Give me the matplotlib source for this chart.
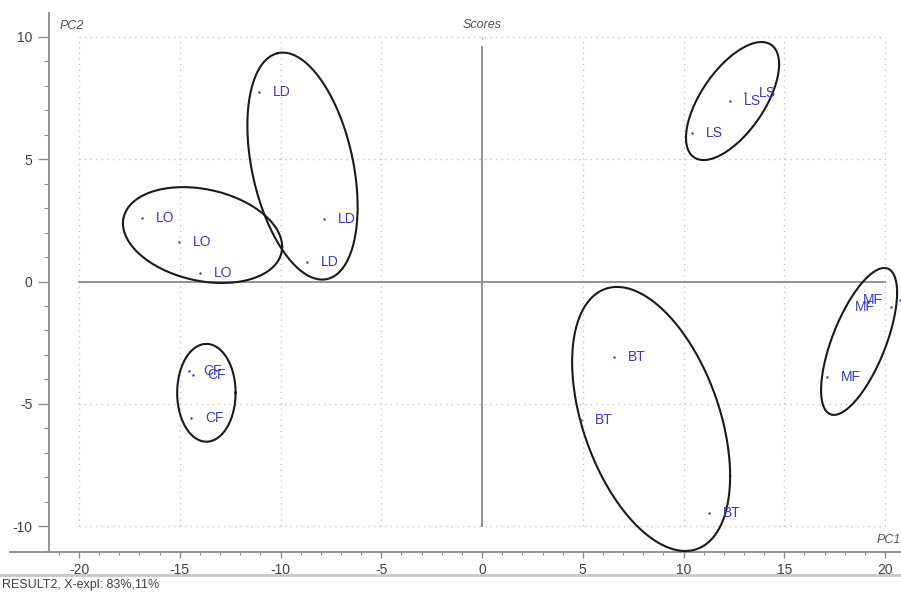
import numpy as np
import matplotlib
matplotlib.use("Agg")
import matplotlib.pyplot as plt
from matplotlib.lines import Line2D

plt.rcParams['font.family'] = ['Liberation Sans Narrow', 'Liberation Sans', 'DejaVu Sans']

# ---- data ----
point_labels = ["LD", "LD", "LD", "LO", "LO", "LO", "CF", "CF", "CF",
                "LS", "LS", "LS", "MF", "MF", "MF", "BT", "BT", "BT"]
pc1 = [-11.07, -7.84, -8.68, -16.87, -15.04, -14.00, -14.54, -14.34, -14.44,
       10.42, 12.31, 13.05, 20.30, 20.74, 17.12, 6.55, 4.91, 11.27]
pc2 = [7.75, 2.56, 0.80, 2.60, 1.62, 0.35, -3.66, -3.82, -5.58,
       6.07, 7.38, 7.71, -1.04, -0.76, -3.91, -3.09, -5.66, -9.47]

# group ellipses: centre, first conjugate semi-axis, second conjugate semi-axis (data units)
ell_names = ["LD", "LO", "CF", "LS", "MF", "BT"]
ell_cx = [-8.91, -13.87, -13.68, 12.43, 18.71, 8.39]
ell_cy = [4.72, 1.90, -4.55, 7.38, -2.45, -5.62]
ell_ux = [-1.216, 3.95, 1.45, 2.31, 1.886, 3.92]
ell_uy = [4.62, -0.48, 0.0, 1.50, 1.99, -2.33]
ell_vx = [2.45, 0.0, 0.0, 0.0, 0.0, 0.0]
ell_vy = [0.44, 1.90, 2.00, 1.89, 2.25, 4.87]

xticks = [-20, -15, -10, -5, 0, 5, 10, 15, 20]
xticklabels = ["-20", "-15", "-10", "-5", "0", "5", "10", "15", "20"]
yticks = [-10, -5, 0, 5, 10]
yticklabels = ["-10", "-5", "0", "5", "10"]

W, H = 901, 592
fig = plt.figure(figsize=(W / 100, H / 100), dpi=100)
ax = fig.add_axes([49 / W, 1 - 552 / H, 1 - 49 / W, (552 - 13) / H])
ax.set_xlim(-21.49, 20.79)
ax.set_ylim(-11.06, 10.98)

axis_col = '#8a8a8a'
for s in ['top', 'right']:
    ax.spines[s].set_visible(False)
for s in ['left', 'bottom']:
    ax.spines[s].set_color(axis_col)
    ax.spines[s].set_linewidth(1.3)

# extend bottom axis line to the left of the y axis
fig.add_artist(Line2D([10 / W, 49 / W], [1 - 552 / H, 1 - 552 / H],
                      color=axis_col, lw=1.3))

ax.set_xticks(xticks)
ax.set_xticklabels(xticklabels)
ax.set_xticks(np.arange(-21, 21, 1), minor=True)
ax.set_yticks(yticks)
ax.set_yticklabels(yticklabels)
ax.set_yticks(np.arange(-11, 11, 1), minor=True)
ax.tick_params(axis='x', which='major', direction='out', length=4, width=1,
               color=axis_col, labelsize=10, labelcolor='#404040', pad=4)
ax.tick_params(axis='x', which='minor', direction='out', length=2, width=0.8,
               color=axis_col)
ax.tick_params(axis='y', which='major', direction='out', length=8, width=1,
               color=axis_col, labelsize=10, labelcolor='#404040', pad=4)
ax.tick_params(axis='y', which='minor', direction='out', length=3.5, width=0.8,
               color=axis_col)

# dotted grid inside [-20,20] x [-10,10]
grid_col = '#c4c4c4'
for gx in xticks:
    if gx != 0:
        ax.plot([gx, gx], [-10, 10], color=grid_col, lw=1, ls=(0, (1, 3)), zorder=1)
for gy in yticks:
    if gy != 0:
        ax.plot([-20, 20], [gy, gy], color=grid_col, lw=1, ls=(0, (1, 3)), zorder=1)
ax.plot([0, 0], [9.9, 10], color=grid_col, lw=1, zorder=1)

# zero lines
ax.plot([-20, 20], [0, 0], color='#8a8a8a', lw=1.3, zorder=2)
ax.plot([0, 0], [-10, 9.6], color='#8a8a8a', lw=1.3, zorder=2)

# ellipses
t = np.linspace(0, 2 * np.pi, 400)
for cx, cy, ux, uy, vx, vy in zip(ell_cx, ell_cy, ell_ux, ell_uy, ell_vx, ell_vy):
    ax.plot(cx + ux * np.cos(t) + vx * np.sin(t),
            cy + uy * np.cos(t) + vy * np.sin(t),
            color='#1a1a1a', lw=1.5, zorder=3, clip_on=False)

# points and labels
blue = '#3a3ac4'
ax.scatter(pc1, pc2, s=3, color=blue, zorder=4, clip_on=False, linewidths=0)
for x, y, lab in zip(pc1, pc2, point_labels):
    if x > 20:
        ax.annotate(lab, (x, y), xytext=(-12, 0), textcoords='offset points',
                    ha='right', va='center', color=blue, fontsize=10, zorder=5)
    else:
        ax.annotate(lab, (x, y), xytext=(10, 0), textcoords='offset points',
                    ha='left', va='center', color=blue, fontsize=10, zorder=5)

# axis titles
ax.text(0, 10.49, "Scores", ha='center', va='center', fontsize=9,
        style='italic', color='#555555')
ax.text(-20.94, 10.45, "PC2", ha='left', va='center', fontsize=9,
        style='italic', color='#555555')
ax.text(20.79, -10.57, "PC1", ha='right', va='center', fontsize=9,
        style='italic', color='#555555')

# bottom status line
fig.add_artist(Line2D([0, 1], [1 - 575 / H, 1 - 575 / H], color='#c8c8c8', lw=2))
fig.text(2 / W, 1 - 585 / H, "RESULT2, X-expl: 83%,11%", ha='left', va='center',
         fontsize=9, color='#404040')

fig.savefig("out.png", dpi=100)
